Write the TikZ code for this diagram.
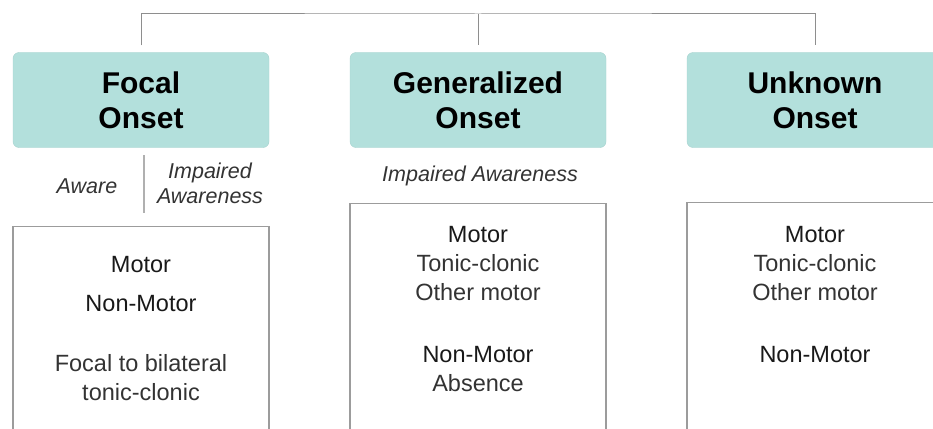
\documentclass[tikz,border=0pt]{standalone}
\usepackage{fontspec}
\setmainfont{Liberation Sans}
\usetikzlibrary{positioning}
\definecolor{onsetfill}{HTML}{B3E0DC}
\definecolor{onsetline}{HTML}{A6D2CE}
\definecolor{linkgray}{HTML}{8E8E8E}
\definecolor{boxgray}{HTML}{9C9C9C}
\definecolor{subgray}{HTML}{333333}
\newcommand{\sub}[1]{\textcolor{subgray}{#1}}

\tikzset{
  onset/.style={draw=onsetline, fill=onsetfill, rounded corners=6pt, minimum width=256pt,
    minimum height=95pt, align=center, inner sep=0pt, font=\bfseries\fontsize{30}{35}\selectfont},
  link/.style={draw=linkgray, line width=1pt},
  listbox/.style={draw=boxgray, line width=1.6pt, minimum width=256pt, minimum height=260pt},
  listtext/.style={align=center, inner sep=0pt, text=black!90, font=\fontsize{23.5}{29}\selectfont},
  awareness/.style={align=center, inner sep=0pt, text=subgray, font=\itshape\fontsize{21.5}{25}\selectfont}
}

\begin{document}
\begin{tikzpicture}[x=1pt, y=-1pt]
    \useasboundingbox (0,0) rectangle (933,428);
    % onset categories
    \node[onset] (focal) at (141,100) {Focal\\Onset};
    \node[onset] (general) at (478,100) {Generalized\\Onset};
    \node[onset] (unknown) at (815,100) {Unknown\\Onset};

    \coordinate (hub) at (478,14);
    \draw[link] ([yshift=7pt]focal.north) |- (hub) -| ([yshift=7pt]unknown.north);
    \draw[link] (hub) -- ([yshift=7pt]general.north);

    % awareness
    \node[awareness, anchor=base] (aware) at (87,193) {Aware};
    \node[awareness, anchor=north] (impaired) at (210,162.3) {Impaired\\Awareness};
    \draw[link, line width=1.4pt, draw=boxgray!80] (144,155) -- (144,213);
    \node[awareness, anchor=base] (genimpaired) at (480,181) {Impaired Awareness};

    % seizure types
    \node[listbox, below=78pt of focal] (focalbox) {};
    \node[listbox, below=55pt of general] (generalbox) {};
    \node[listbox, below=54pt of unknown] (unknownbox) {};

    \node[listtext, below=30pt of focalbox.north] (focallist)
      {Motor\\[10pt]Non-Motor\\[31pt]\sub{Focal to bilateral}\\\sub{tonic-clonic}};
    \node[listtext, below=23pt of generalbox.north] (generallist)
      {Motor\\\sub{Tonic-clonic}\\\sub{Other motor}\\[33pt]Non-Motor\\\sub{Absence}};
    \node[listtext, below=24pt of unknownbox.north] (unknownlist)
      {Motor\\\sub{Tonic-clonic}\\\sub{Other motor}\\[33pt]Non-Motor};
\end{tikzpicture}
\end{document}
